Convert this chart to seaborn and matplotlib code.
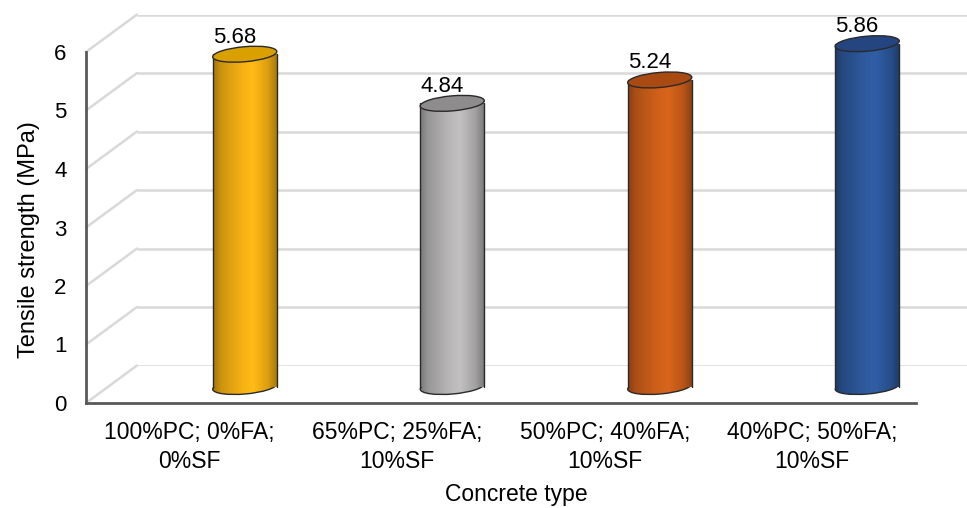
import numpy as np
import matplotlib
matplotlib.use("Agg")
import matplotlib.pyplot as plt
import matplotlib.colors as mcolors
from matplotlib.patches import Ellipse
from matplotlib.lines import Line2D
from matplotlib.transforms import IdentityTransform
import seaborn as sns

# ── Data ────────────────────────────────────────────────
concrete_types = ["100%PC; 0%FA;\n0%SF", "65%PC; 25%FA;\n10%SF",
                  "50%PC; 40%FA;\n10%SF", "40%PC; 50%FA;\n10%SF"]
tensile_strength = [5.68, 4.84, 5.24, 5.86]
y_ticks = [0, 1, 2, 3, 4, 5, 6]

# ── Style ───────────────────────────────────────────────
bar_colors = ["#FFB714", "#BEBCBC", "#D6631B", "#2F5CA2"]
lid_colors = ["#D9A000", "#8E8C8C", "#A84A12", "#244580"]
GRID = "#d9d9d9"
SPINE = "#595959"
EDGE = "#2a2a2a"

sns.set_theme(style="white")
plt.rcParams["font.family"] = ["Liberation Sans", "DejaVu Sans"]

W, H, DPI = 967, 508, 100
fig = plt.figure(figsize=(W / DPI, H / DPI), dpi=DPI)

def px_box(x0, y_top, x1, y_bot):
    return [x0 / W, 1 - y_bot / H, (x1 - x0) / W, (y_bot - y_top) / H]

# front plane (axis lines + labels), back wall, bar plane (mid depth)
FX0, FY6, FX1, FY0 = 86, 52, 916, 403
PPU = (FY0 - FY6) / 6          # pixels per MPa
BACK = (51, -37.5)
BARS = (55, -16.5)
PAD_B = 20                     # extra room under the bar plane for the bottom ellipses

ax_back = fig.add_axes(px_box(FX0 + BACK[0], FY6 + BACK[1], W, FY0 + BACK[1]))
ax_bar = fig.add_axes(px_box(FX0 + BARS[0], FY6 + BARS[1],
                             FX1 + BARS[0], FY0 + BARS[1] + PAD_B))
ax = fig.add_axes(px_box(FX0, FY6, FX1, FY0))
ax_back.set_zorder(0); ax_bar.set_zorder(1); ax.set_zorder(2)

# ── Back wall gridlines ─────────────────────────────────
ax_back.hlines(y_ticks, 0, 1, color=GRID, lw=1.8)
ax_back.set_xlim(0, 1); ax_back.set_ylim(0, 6)
ax_back.axis("off")

# ── Front axis ──────────────────────────────────────────
ax.set_xlim(-0.5, 3.5); ax.set_ylim(0, 6)
ax.patch.set_alpha(0)
ax.set_xticks(range(len(concrete_types)))
ax.set_xticklabels(concrete_types, fontsize=16.5, linespacing=1.32)
ax.set_yticks(y_ticks)
ax.set_yticklabels([str(v) for v in y_ticks], fontsize=16)
ax.tick_params(axis="both", length=0, colors="black")
ax.tick_params(axis="x", pad=13)
ax.tick_params(axis="y", pad=14)
for s in ["top", "right"]:
    ax.spines[s].set_visible(False)
for s in ["left", "bottom"]:
    ax.spines[s].set_color(SPINE)
    ax.spines[s].set_linewidth(2)
ax.set_ylabel("Tensile strength (MPa)", fontsize=17, color="black")
ax.yaxis.set_label_coords(-0.055, 0.465)
ax.set_xlabel("Concrete type", fontsize=16.5, color="black")
ax.xaxis.set_label_coords(0.519, -0.262)
ax.xaxis.label.set_va("center")

# slanted floor/wall lines joining front axis to back wall
for v in y_ticks:
    p0 = ax.transData.transform((-0.5, v))
    p1 = ax_back.transData.transform((0, v))
    f0, f1 = fig.transFigure.inverted().transform([p0, p1])
    fig.add_artist(Line2D([f0[0], f1[0]], [f0[1], f1[1]], color=GRID,
                          lw=1.8, zorder=0.5, transform=fig.transFigure))

# ── Cylinders ───────────────────────────────────────────
sns.barplot(x=concrete_types, y=tensile_strength, hue=concrete_types,
            palette=bar_colors, width=0.31, saturation=1, legend=False,
            ax=ax_bar)
YLIM_BAR = (-PAD_B / PPU, 6)
ax_bar.set_xlim(-0.5, 3.5); ax_bar.set_ylim(*YLIM_BAR)
ax_bar.axis("off")

shade = [(0.0, 0.64), (0.12, 0.80), (0.45, 0.97), (0.62, 1.02),
         (0.85, 0.86), (1.0, 0.64)]

def shaded_cmap(color):
    rgb = np.array(mcolors.to_rgb(color))
    return mcolors.LinearSegmentedColormap.from_list(
        "cyl", [(t, tuple(np.clip(rgb * f, 0, 1))) for t, f in shade])

grad = np.linspace(0, 1, 256).reshape(1, -1)
ell_h, tilt = 15, 5

for i, bar in enumerate(ax_bar.patches):
    x0, w, h = bar.get_x(), bar.get_width(), bar.get_height()
    cx = x0 + w / 2
    cmap = shaded_cmap(bar_colors[i])
    bar.set_facecolor("none"); bar.set_edgecolor("none")

    w_px = (ax_bar.transData.transform((x0 + w, 0)) -
            ax_bar.transData.transform((x0, 0)))[0]

    # bottom ellipse (only lower half shows)
    cb = ax_bar.transData.transform((cx, 0))
    bot = Ellipse(cb, w_px, ell_h, angle=tilt, transform=IdentityTransform(),
                  facecolor="none", edgecolor=EDGE, lw=1, zorder=2)
    ax_bar.add_patch(bot)
    im = ax_bar.imshow(grad, extent=(x0, x0 + w, -0.3, 0.3), aspect="auto",
                       cmap=cmap, zorder=1.5)
    im.set_clip_path(bot)

    # body
    im = ax_bar.imshow(grad, extent=(x0, x0 + w, 0, h), aspect="auto",
                       cmap=cmap, zorder=2.5)
    im.set_clip_path(bar)
    ax_bar.plot([x0, x0], [0, h], color=EDGE, lw=1, zorder=3, clip_on=False)
    ax_bar.plot([x0 + w, x0 + w], [0, h], color=EDGE, lw=1, zorder=3, clip_on=False)

    # top lid
    ct = ax_bar.transData.transform((cx, h))
    ax_bar.add_patch(Ellipse(ct, w_px, ell_h, angle=tilt, transform=IdentityTransform(),
                             facecolor=lid_colors[i], edgecolor=EDGE, lw=1,
                             zorder=4, clip_on=False))

    ax_bar.text(cx - 0.05, h + 0.29, f"{tensile_strength[i]:.2f}", ha="center",
                va="center", fontsize=16, color="black", zorder=5, clip_on=False)

ax_bar.set_xlim(-0.5, 3.5); ax_bar.set_ylim(*YLIM_BAR)

fig.savefig("out.png", dpi=DPI, facecolor="white")
